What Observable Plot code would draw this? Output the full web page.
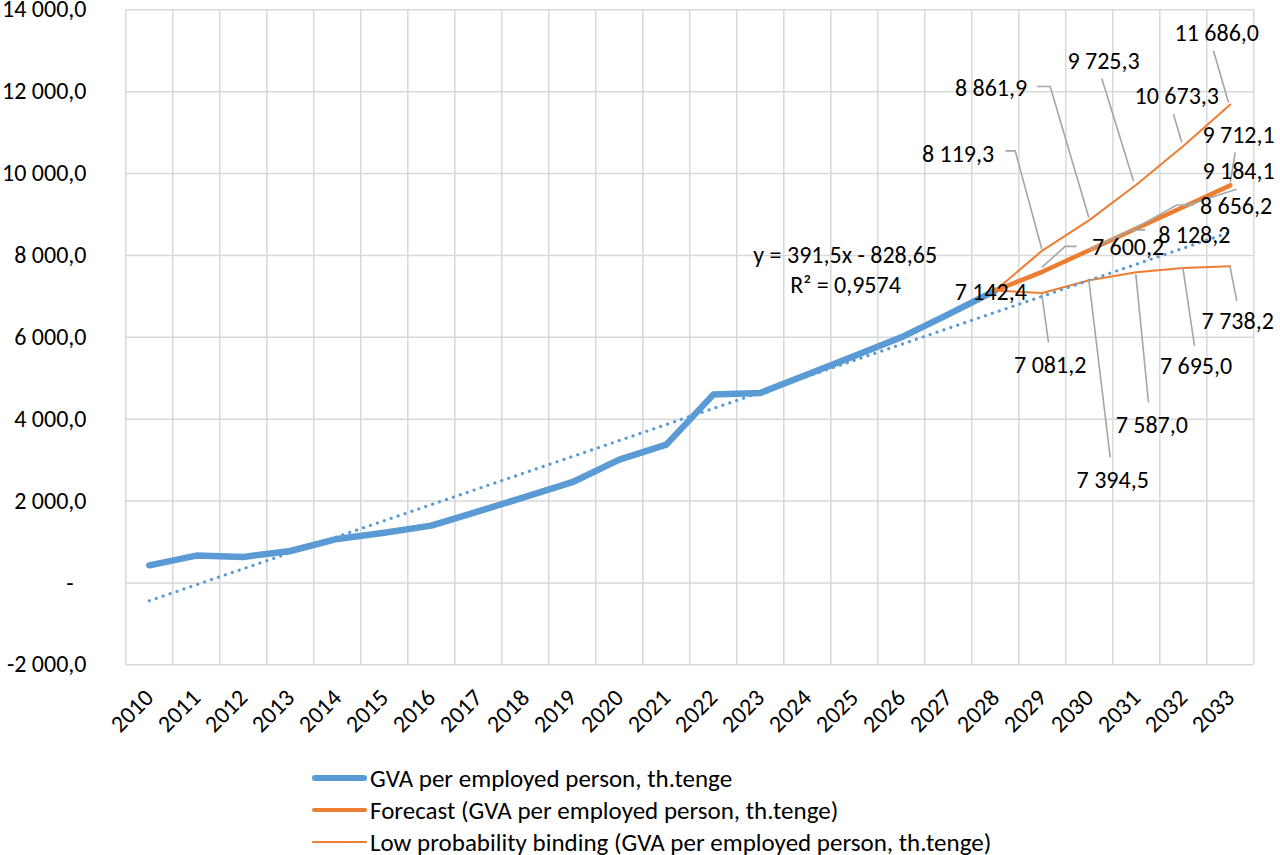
<!DOCTYPE html>
<html>
<head>
<meta charset="utf-8">
<script src="https://cdn.jsdelivr.net/npm/d3@7"></script>
<script src="https://cdn.jsdelivr.net/npm/@observablehq/plot@0.6"></script>
<style>
  html, body { margin: 0; padding: 0; background: #fff; }
  body { font-family: Carlito, Lato, "Noto Sans", sans-serif; color: #000; width: 1280px; height: 855px; overflow: hidden; }
  #chart svg { display: block; }
  #legend { padding-left: 312px; padding-top: 7px; }
  #legend .row { height: 32px; display: flex; align-items: center; font-size: 25px; white-space: nowrap; }
  #legend .sw { width: 55px; margin-right: 3px; border-radius: 3px; }
</style>
</head>
<body>
<div id="chart"></div>
<div id="legend"></div>
<script>
// ---------- data ----------
const categories = [2010, 2011, 2012, 2013, 2014, 2015, 2016, 2017, 2018, 2019, 2020, 2021,
                    2022, 2023, 2024, 2025, 2026, 2027, 2028, 2029, 2030, 2031, 2032, 2033];
const gvaYears  = [2010, 2011, 2012, 2013, 2014, 2015, 2016, 2017, 2018, 2019, 2020, 2021,
                   2022, 2023, 2024, 2025, 2026, 2027, 2028];
const gvaValues = [430, 667, 635, 780, 1075, 1225, 1400, 1750, 2100, 2460, 3012, 3378,
                   4600, 4640, 5090, 5545, 6000, 6560, 7142.4];
const forecastYears  = [2028, 2029, 2030, 2031, 2032, 2033];
const forecastValues = [7142.4, 7600.2, 8128.2, 8656.2, 9184.1, 9712.1];
const upperValues    = [7142.4, 8119.3, 8861.9, 9725.3, 10673.3, 11686.0];
const lowerValues    = [7142.4, 7081.2, 7394.5, 7587.0, 7695.0, 7738.2];
const trendYears  = [2010, 2033];
const trendValues = [-437.15, 8567.35];
const trendLabel  = ["y = 391,5x - 828,65", "R\u00b2 = 0,9574"];
const yTicks = [-2000, 0, 2000, 4000, 6000, 8000, 10000, 12000, 14000];
const seriesNames = [
  "GVA per employed person, th.tenge",
  "Forecast (GVA per employed person, th.tenge)",
  "Low probability binding (GVA per employed person, th.tenge)"
];

// ---------- styles / label placement (pixel offsets from each point) ----------
const BLUE = "#5b9bd5", ORANGE = "#ed7d31", GRID = "#d9d9d9", LEADER = "#a6a6a6";
const FONT = "Carlito, Lato, 'Noto Sans', sans-serif";
const FS = 24;
const basePlacement = {text: [-4, 2], leader: null};
const forecastPlacement = [null,
  {text: [86.2, -24.2], leader: [[35, -24.9], [23.4, -24.9], [0, -3.9]]},
  {text: [105.5, -15.5], leader: [[56.4, -19.8], [43, -19.8], [0, 0]]},
  {text: [100.2, -22.9], leader: [[58, -23], [41, -23], [0, 0]]},
  {text: [55.7, -35.6], leader: [[53.7, -17.3], [0, 0]]},
  {text: [8.7, -50.7], leader: [[5.4, -32.4], [0.4, -2.4]]}
];
const upperPlacement = [null,
  {text: [-83.8, -96.9], leader: [[-36.3, -99.2], [-26.6, -99.2], [0, -1]]},
  {text: [-97.8, -132.5], leader: [[-52, -133.2], [-38.6, -133.2], [0, -2.2]]},
  {text: [-32.3, -123.4], leader: [[-34, -105.8], [-2.3, -3.4]]},
  {text: [-6, -49.6], leader: [[-9.3, -31.3], [-1, -3]]},
  {text: [-13, -71.6], leader: [[-16.3, -53.2], [-1.3, -1.6]]}
];
const lowerPlacement = [null,
  {text: [8.4, 71.6], leader: [[0, 1.6], [6.7, 49.9]]},
  {text: [23.9, 199.4], leader: [[0, 0], [21.4, 177.7]]},
  {text: [16, 152.3], leader: [[0, 2.3], [12.7, 130.6]]},
  {text: [13.2, 98.4], leader: [[0, 0], [11.7, 78.4]]},
  {text: [7.9, 55.2], leader: [[0, 0], [7, 35.2]]}
];
const trendLabelOffsets = [[-384.6, 22.5], [-384.3, 52.5]];

// ---------- formatting ----------
const loc = d3.formatLocale({decimal: ",", thousands: "\u00a0", grouping: [3], currency: ["", ""], minus: "-"});
const fmt1 = loc.format(",.1f");
const yFmt = v => v === 0 ? "-\u2007" : fmt1(v);

// ---------- tables ----------
const gva = gvaYears.map((year, i) => ({year, value: gvaValues[i]}));
const forecast = forecastYears.map((year, i) => ({year, value: forecastValues[i]}));
const upper = forecastYears.map((year, i) => ({year, value: upperValues[i]}));
const lower = forecastYears.map((year, i) => ({year, value: lowerValues[i]}));
const trend = trendYears.map((year, i) => ({year, value: trendValues[i]}));
const boundaries = categories.map(c => c - 0.5).concat([categories[categories.length - 1] + 0.5]);

const labels = [];
labels.push({year: gvaYears[gvaYears.length - 1], value: gvaValues[gvaValues.length - 1], ...basePlacement});
forecastYears.forEach((year, i) => {
  if (forecastPlacement[i]) labels.push({year, value: forecastValues[i], ...forecastPlacement[i]});
  if (upperPlacement[i]) labels.push({year, value: upperValues[i], ...upperPlacement[i]});
  if (lowerPlacement[i]) labels.push({year, value: lowerValues[i], ...lowerPlacement[i]});
});

function leaderMark(index, scales) {
  const g = d3.create("svg:g");
  for (const lab of labels) {
    if (!lab.leader) continue;
    const px = scales.x(lab.year), py = scales.y(lab.value);
    g.append("path")
      .attr("d", d3.line()(lab.leader.map(([dx, dy]) => [px + dx, py + dy])))
      .attr("fill", "none").attr("stroke", LEADER).attr("stroke-width", 1.6);
  }
  return g.node();
}
function labelMark(index, scales) {
  const g = d3.create("svg:g")
    .attr("font-family", FONT).attr("font-size", FS).attr("fill", "#000")
    .attr("text-anchor", "middle");
  for (const lab of labels) {
    const px = scales.x(lab.year), py = scales.y(lab.value);
    g.append("text").attr("x", px + lab.text[0]).attr("y", py + lab.text[1])
      .attr("dy", "0.35em").text(fmt1(lab.value));
  }
  const tEnd = trend[trend.length - 1];
  const tx = scales.x(tEnd.year), ty = scales.y(tEnd.value);
  trendLabel.forEach((s, i) => {
    g.append("text").attr("x", tx + trendLabelOffsets[i][0]).attr("y", ty + trendLabelOffsets[i][1])
      .attr("dy", "0.35em").text(s);
  });
  return g.node();
}

const H = 755;
const chart = Plot.plot({
  width: 1280,
  height: H,
  marginLeft: 125.3,
  marginRight: 26.7,
  marginTop: 9.3,
  marginBottom: H - 664.3,
  x: {domain: [2009.5, 2033.5], axis: null},
  y: {domain: [-2000, 14000], axis: null},
  style: {fontFamily: FONT, fontSize: FS + "px", color: "#000", background: "#fff", overflow: "visible"},
  marks: [
    Plot.ruleY(yTicks, {stroke: GRID, strokeWidth: 1.5, strokeOpacity: 1}),
    Plot.ruleX(boundaries, {stroke: GRID, strokeWidth: 1.5, strokeOpacity: 1}),
    Plot.text(yTicks, {y: d => d, frameAnchor: "left", dx: -39.3, text: yFmt, textAnchor: "end",
                       fontSize: FS, fill: "#000"}),
    Plot.text(categories, {x: d => d, frameAnchor: "bottom", dy: 29, rotate: -45, textAnchor: "end",
                           lineAnchor: "middle", text: d => String(d), fontSize: FS, fill: "#000"}),
    Plot.line(gva, {x: "year", y: "value", stroke: BLUE, strokeWidth: 6.5, strokeLinejoin: "round", strokeLinecap: "round"}),
    Plot.line(upper, {x: "year", y: "value", stroke: ORANGE, strokeWidth: 2, strokeLinejoin: "round"}),
    Plot.line(lower, {x: "year", y: "value", stroke: ORANGE, strokeWidth: 2, strokeLinejoin: "round"}),
    Plot.line(forecast, {x: "year", y: "value", stroke: ORANGE, strokeWidth: 4.5, strokeLinejoin: "round"}),
    Plot.line(trend, {x: "year", y: "value", stroke: BLUE, strokeWidth: 3.2, strokeDasharray: "0.1,7.2", strokeLinecap: "round"}),
    leaderMark,
    labelMark
  ]
});
document.getElementById("chart").appendChild(chart);

// ---------- legend ----------
const swatches = [
  {color: BLUE, h: 6.5},
  {color: ORANGE, h: 4.5},
  {color: ORANGE, h: 2.2}
];
const legend = d3.select("#legend");
seriesNames.forEach((name, i) => {
  const row = legend.append("div").attr("class", "row");
  row.append("span").attr("class", "sw")
    .style("height", swatches[i].h + "px").style("background", swatches[i].color);
  row.append("span").text(name);
});
</script>
</body>
</html>
